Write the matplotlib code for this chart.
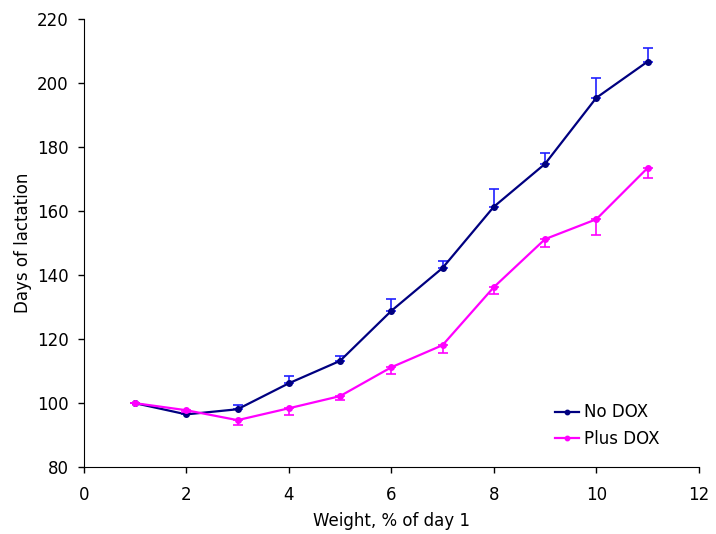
import numpy as np
import matplotlib
matplotlib.use("Agg")
import matplotlib.pyplot as plt

# Data
weight = [1, 2, 3, 4, 5, 6, 7, 8, 9, 10, 11]

no_dox = [100.0, 96.5, 98.1, 106.2, 113.2, 128.8, 142.2, 161.3, 174.7, 195.3, 206.6]
no_dox_err = [0.0, 0.4, 1.2, 2.2, 1.6, 3.7, 2.2, 5.6, 3.4, 6.3, 4.3]

plus_dox = [100.0, 97.8, 94.7, 98.4, 102.2, 111.2, 118.1, 136.2, 151.2, 157.4, 173.4]
plus_dox_err = [0.0, 0.5, 1.6, 2.2, 1.3, 2.2, 2.5, 2.2, 2.5, 5.0, 3.1]

plt.rcParams["font.family"] = "DejaVu Sans"
plt.rcParams["font.size"] = 12

fig = plt.figure(figsize=(7.16, 5.34), dpi=100)
ax = fig.add_axes([0.117, 0.125, 0.859, 0.84])

# No DOX: error bars drawn upward only
ax.errorbar(weight, no_dox, yerr=[np.zeros(len(no_dox_err)), no_dox_err],
            fmt="none", ecolor="#2020ff", elinewidth=1.2, capsize=3.5,
            capthick=1.2)
ax.plot(weight, no_dox, color="#000080", marker="o", markersize=4,
        linewidth=1.6, label="No DOX")

# Plus DOX: error bars drawn downward only
ax.errorbar(weight, plus_dox, yerr=[plus_dox_err, np.zeros(len(plus_dox_err))],
            fmt="none", ecolor="#ff00ff", elinewidth=1.2, capsize=3.5,
            capthick=1.2)
ax.plot(weight, plus_dox, color="#ff00ff", marker="o", markersize=4,
        linewidth=1.6, label="Plus DOX")

ax.set_xlim(0, 12)
ax.set_ylim(80, 220)
ax.set_xticks(range(0, 13, 2))
ax.set_yticks(range(80, 221, 20))
ax.spines["top"].set_visible(False)
ax.spines["right"].set_visible(False)
ax.tick_params(direction="out", length=4, width=1)
ax.tick_params(axis="x", pad=9.5)
ax.tick_params(axis="y", pad=7)
ax.set_xlabel("Weight, % of day 1", labelpad=6)
ax.set_ylabel("Days of lactation", labelpad=3.5)

ax.legend(loc="lower right", frameon=False, handlelength=1.4,
          handletextpad=0.3, markerscale=0.8, bbox_to_anchor=(0.96, 0.01))

fig.savefig("out.png", dpi=100)
